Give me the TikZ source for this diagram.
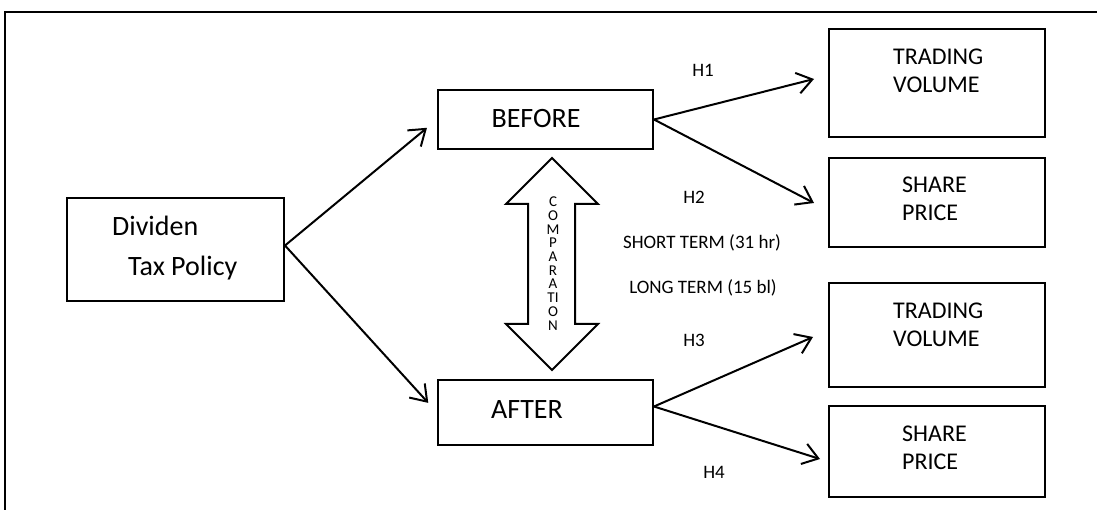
\documentclass[tikz,border=0pt]{standalone}
\usepackage{fontspec}
\setmainfont{Carlito}
\usetikzlibrary{arrows.meta}

\begin{document}
\begin{tikzpicture}[x=1pt,y=1pt]
\tikzstyle{every node}+=[inner sep=0pt]
\tikzstyle{box}=[draw=black,line width=2pt,minimum width=216pt]
\tikzstyle{arr}=[line width=2pt,-{Straight Barb[length=15pt,width=21pt]}]
\tikzstyle{big}=[font=\fontsize{28}{40}\selectfont,align=left]
\tikzstyle{mid}=[font=\fontsize{24}{28}\selectfont,align=left,anchor=west]
\tikzstyle{small}=[font=\fontsize{19}{23}\selectfont]
\useasboundingbox (0,0) rectangle (1097,-510);
\draw [line width=2pt] (5,-510) -- (5,-12) -- (1097,-12);
% left and middle boxes
\node [box,minimum width=217pt,minimum height=103pt] (div) at (175.5,-249.5) {};
\node [big,anchor=west] (divtxt) at (112,-248) {Dividen\\\hspace*{16pt}Tax Policy};
\node [box,minimum width=215pt,minimum height=59pt] (bef) at (545.5,-119.5) {};
\node [big] (beftxt) at (536,-119) {BEFORE};
\node [box,minimum width=215pt,minimum height=65pt] (aft) at (545.5,-412.5) {};
\node [big] (afttxt) at (527,-410) {AFTER};
% right boxes
\node [box,minimum height=108pt] (tv1) at (937,-83) {};
\node [mid] (tv1txt) at (893,-71) {TRADING\\VOLUME};
\node [box,minimum height=89pt] (sp1) at (937,-202.5) {};
\node [mid] (sp1txt) at (902,-199) {SHARE\\PRICE};
\node [box,minimum height=104pt] (tv2) at (937,-335) {};
\node [mid] (tv2txt) at (893,-324.5) {TRADING\\VOLUME};
\node [box,minimum height=91pt] (sp2) at (937,-451.5) {};
\node [mid] (sp2txt) at (902,-447.5) {SHARE\\PRICE};
% comparation arrow
\draw [line width=2pt] (552,-158) -- (598,-204) -- (575,-204) -- (575,-324) -- (598,-324) -- (552,-370) -- (506,-324) -- (528,-324) -- (528,-204) -- (506,-204) -- cycle;
\node [font=\fontsize{15}{13.7}\selectfont,align=center] (cmp) at (553,-263.5) {C\\O\\M\\P\\A\\R\\A\\TI\\O\\N};
% labels
\node [small] (h1lbl) at (703,-70) {H1};
\node [small] (h2lbl) at (694,-197) {H2};
\node [small] (short) at (702,-243) {SHORT TERM (31 hr)};
\node [small] (long) at (703,-288) {LONG TERM (15 bl)};
\node [small] (h3lbl) at (694,-340) {H3};
\node [small] (h4lbl) at (714,-472) {H4};
% arrows
\coordinate (h1) at (814,-79);
\coordinate (h2) at (814,-203);
\coordinate (h3) at (813,-337);
\coordinate (h4) at (820,-459);
\draw [arr,shorten >=13pt] ([yshift=4pt]div.east) -- (bef.west);
\draw [arr,shorten >=13pt] ([yshift=4pt]div.east) -- (aft.west);
\draw [arr] (bef.east) -- (h1);
\draw [arr] (bef.east) -- (h2);
\draw [arr] ([yshift=6pt]aft.east) -- (h3);
\draw [arr] ([yshift=6pt]aft.east) -- (h4);
\end{tikzpicture}
\end{document}
